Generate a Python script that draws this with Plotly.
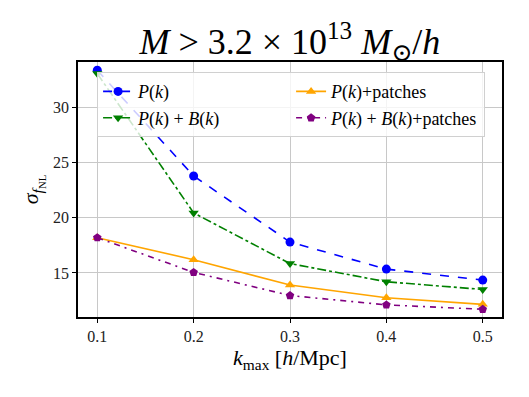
import plotly.graph_objects as go

kmax = [0.1, 0.2, 0.3, 0.4, 0.5]

pk = [33.4, 23.8, 17.8, 15.35, 14.35]
pk_bk = [33.1, 20.45, 15.85, 14.2, 13.5]
pk_patches = [18.2, 16.2, 13.9, 12.75, 12.15]
pk_bk_patches = [18.2, 15.05, 12.95, 12.1, 11.7]

series = [
    ("<i>P</i>(<i>k</i>)", pk, "blue", "dash", "circle", 1),
    ("<i>P</i>(<i>k</i>)+patches", pk_patches, "orange", "solid", "triangle-up", 2),
    ("<i>P</i>(<i>k</i>) + <i>B</i>(<i>k</i>)", pk_bk, "green", "dashdot", "triangle-down", 3),
    ("<i>P</i>(<i>k</i>) + <i>B</i>(<i>k</i>)+patches", pk_bk_patches, "purple", "6px,5px,2px,5px", "pentagon", 4),
]

fig = go.Figure()
for name, vals, color, dash, sym, rank in series:
    fig.add_trace(go.Scatter(
        x=kmax, y=vals, name=name, mode="lines+markers",
        line=dict(color=color, dash=dash, width=1.6),
        marker=dict(symbol=sym, size=9, color=color),
        legendrank=rank,
    ))

font = "Liberation Serif, DejaVu Serif, serif"
axis = dict(showline=True, linecolor="black", linewidth=1.6, mirror=True,
            ticks="outside", tickcolor="black", ticklen=4, tickwidth=1.2,
            showgrid=True, gridcolor="#c8c8c8", gridwidth=1, zeroline=False,
            automargin=False, tickfont=dict(size=16, color="#222"))

# page body adds an 8px margin, so the figure is sized to fit inside it
fig.update_layout(
    width=521, height=389,
    paper_bgcolor="white", plot_bgcolor="white",
    font=dict(family=font, color="black"),
    margin=dict(l=70, r=27, t=54, b=80),
    title=dict(text="<i>M</i> > 3.2 × 10<sup>13</sup> <i>M</i><sub>⊙</sub>/<i>h</i>",
               x=0.541, xanchor="center", y=0.915, yanchor="middle",
               font=dict(size=36, family=font)),
    xaxis=dict(axis, range=[0.08, 0.52], tickvals=kmax,
               ticktext=["0.1", "0.2", "0.3", "0.4", "0.5"],
               title=dict(text="<i>k</i><sub>max</sub> [<i>h</i>/Mpc]", font=dict(size=22), standoff=4)),
    yaxis=dict(axis, range=[11.0, 34.15], tickvals=[15, 20, 25, 30],
               title=dict(text="<i>σ</i><sub><i>f</i><sub>NL</sub></sub>", font=dict(size=22), standoff=8)),
    legend=dict(orientation="h", x=0.045, y=0.96, xanchor="left", yanchor="top",
                entrywidth=148, entrywidthmode="pixels", traceorder="normal",
                bgcolor="rgba(255,255,255,0.8)", bordercolor="#d0d0d0", borderwidth=1,
                font=dict(size=18, family=font)),
)

fig.write_html("out.html")
